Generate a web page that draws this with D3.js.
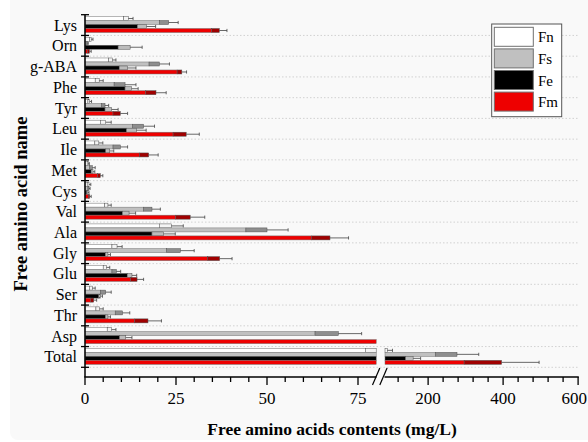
<!DOCTYPE html>
<html>
<head>
<meta charset="utf-8">
<script src="https://cdn.jsdelivr.net/npm/d3@7/dist/d3.min.js"></script>
<style>
    body { margin: 0; background: #fff; }
    text { font-family: "Liberation Serif", "Times New Roman", serif; fill: #000; }
    .grid { stroke: #c8c8c8; stroke-width: 0.8; stroke-dasharray: 1.5 2; }
    .axis { stroke: #000; stroke-width: 1.5; fill: none; }
    .whisker { stroke: #444; stroke-width: 0.8; }
</style>
</head>
<body>
<svg id="chart" width="588" height="442"></svg>
<script>
// Categories (top to bottom) and series
const aminoAcids = ["Lys", "Orn", "g-ABA", "Phe", "Tyr", "Leu", "Ile", "Met", "Cys",
    "Val", "Ala", "Gly", "Glu", "Ser", "Thr", "Asp", "Total"];
const seriesNames = ["Fn", "Fs", "Fe", "Fm"];

// Means (mg/L), one per amino acid
const fnMeans = [11.9, 1.7, 7.5, 3.9, 1.3, 5.7, 3.8, 0.9, 1.1, 6.3, 23.7, 8.8, 5.9, 2.0, 4.0, 7.3, 91];
const fsMeans = [23.0, 0.7, 20.4, 11.0, 5.5, 16.1, 9.7, 2.0, 1.1, 18.4, 50.0, 26.2, 8.6, 5.7, 10.3, 69.6, 277];
const feMeans = [16.9, 12.4, 11.7, 12.8, 7.3, 14.1, 6.8, 2.2, 0.8, 12.1, 21.6, 6.3, 12.9, 4.3, 6.3, 11.2, 160];
const fmMeans = [36.9, 1.2, 26.6, 19.5, 9.7, 27.8, 17.5, 4.2, 1.3, 28.9, 67.3, 37.0, 14.3, 2.4, 17.3, 82, 396];

// Standard deviations
const fnErrs = [1.3, 0.5, 1.0, 1.1, 0.5, 1.5, 1.1, 0.3, 0.5, 0.9, 3.3, 1.4, 0.9, 0.8, 1.0, 1.2, 14];
const fsErrs = [2.6, 0.2, 2.8, 3.0, 1.0, 3.0, 2.0, 0.8, 0.3, 2.3, 5.8, 3.8, 1.2, 1.5, 2.0, 6.4, 58];
const feErrs = [2.5, 3.3, 2.3, 1.8, 1.8, 2.7, 1.1, 0.5, 0.3, 1.8, 3.2, 0.7, 1.3, 0.5, 0.7, 1.7, 20];
const fmErrs = [2.1, 0.5, 1.3, 2.8, 2.0, 3.6, 2.6, 0.7, 0.4, 4.0, 5.1, 3.4, 1.8, 0.8, 3.7, 1.5, 100];

const leftTicks = [0, 25, 50, 75];
const rightTicks = [200, 400, 600];

const fills = {Fn: "#ffffff", Fs: "#c0c0c0", Fe: "#000000", Fm: "#ee0000"};
const boxFills = {Fn: "#f4f4f4", Fs: "#8e8e8e", Fe: "#bcbcbc", Fm: "#a00000"};

const svg = d3.select("#chart");

// light panel behind the figure
svg.append("rect")
    .attr("x", 10).attr("y", -10)
    .attr("width", 590).attr("height", 450)
    .attr("rx", 8)
    .attr("fill", "#f9f9f9");

// Broken x axis: two linear segments
const breakLo = 80, breakHi = 85;
const xL = d3.scaleLinear().domain([0, breakLo]).range([85, 376.2]);
const xR = d3.scaleLinear().domain([breakHi, 600]).range([385, 578.1]);

const y = d3.scaleBand().domain(aminoAcids).range([14.7, 367.3]);
const ySub = d3.scaleBand().domain(seriesNames).range([1.8, 17.8]);
const axisY = 377;

const rows = [];
aminoAcids.forEach((a, i) => {
    rows.push({acid: a, s: "Fn", v: fnMeans[i], e: fnErrs[i]});
    rows.push({acid: a, s: "Fs", v: fsMeans[i], e: fsErrs[i]});
    rows.push({acid: a, s: "Fe", v: feMeans[i], e: feErrs[i]});
    rows.push({acid: a, s: "Fm", v: fmMeans[i], e: fmErrs[i]});
});

// Split a [a, b] data span into screen pieces on each side of the break
function pieces(a, b) {
    let out = [];
    if (a < breakLo) out.push([xL(a), xL(Math.min(b, breakLo))]);
    if (b > breakHi) out.push([xR(Math.max(a, breakHi)), xR(b)]);
    return out;
}
function xPos(v) {
    return v <= breakLo ? xL(v) : xR(Math.max(v, breakHi));
}

// Dotted grid at category boundaries
const bounds = aminoAcids.map(a => y(a) + y.bandwidth());
svg.append("g").selectAll("line")
    .data(bounds)
    .enter()
    .append("line")
    .classed("grid", true)
    .attr("x1", 86).attr("x2", 578)
    .attr("y1", d => d).attr("y2", d => d);

// Bars
let barG = svg.append("g");
rows.forEach(d => {
    let top = y(d.acid) + ySub(d.s);
    let h = ySub.bandwidth();
    let lo = Math.max(0, d.v - d.e);

    pieces(0, lo).forEach(p => {
        barG.append("rect")
            .attr("x", p[0]).attr("y", top)
            .attr("width", p[1] - p[0]).attr("height", h)
            .attr("fill", fills[d.s])
            .attr("stroke", "#707070").attr("stroke-width", 0.5);
    });
    // error box: mean - sd to mean
    pieces(lo, d.v).forEach(p => {
        barG.append("rect")
            .attr("x", p[0]).attr("y", top)
            .attr("width", p[1] - p[0]).attr("height", h)
            .attr("fill", boxFills[d.s])
            .attr("stroke", "#505050").attr("stroke-width", 0.5);
    });
    // whisker: mean to mean + sd
    let cy = top + h / 2;
    let xa = xPos(d.v), xb = xPos(d.v + d.e);
    if (d.v >= breakLo && d.v <= breakHi) return;
    barG.append("line").classed("whisker", true)
        .attr("x1", xa).attr("x2", xb).attr("y1", cy).attr("y2", cy);
    barG.append("line").classed("whisker", true)
        .attr("x1", xb).attr("x2", xb).attr("y1", cy - 1.6).attr("y2", cy + 1.6);
});

// Y axis with boundary ticks
svg.append("line").classed("axis", true)
    .attr("x1", 85).attr("x2", 85).attr("y1", 14.7).attr("y2", axisY);
svg.append("g").selectAll("line")
    .data([14.7].concat(bounds))
    .enter()
    .append("line")
    .attr("x1", 81).attr("x2", 89)
    .attr("y1", d => d).attr("y2", d => d)
    .attr("stroke", "#000").attr("stroke-width", 1.3);

svg.append("g").selectAll("text")
    .data(aminoAcids)
    .enter()
    .append("text")
    .attr("x", 77)
    .attr("y", d => y(d) + y.bandwidth() / 2 + 5.5)
    .attr("text-anchor", "end")
    .attr("font-size", 16)
    .text(d => d);

// X axis, both segments
svg.append("line").classed("axis", true)
    .attr("x1", 84.3).attr("x2", 376.5).attr("y1", axisY).attr("y2", axisY);
svg.append("line").classed("axis", true)
    .attr("x1", 384.5).attr("x2", 578.8).attr("y1", axisY).attr("y2", axisY);

let tickG = svg.append("g");
d3.range(0, 80, 5).forEach(v => {
    let major = leftTicks.includes(v);
    tickG.append("line")
        .attr("x1", xL(v)).attr("x2", xL(v))
        .attr("y1", axisY).attr("y2", axisY + (major ? 8 : 5))
        .attr("stroke", "#000").attr("stroke-width", 1.3);
});
d3.range(120, 601, 40).forEach(v => {
    let major = rightTicks.includes(v);
    tickG.append("line")
        .attr("x1", xR(v)).attr("x2", xR(v))
        .attr("y1", axisY).attr("y2", axisY + (major ? 8 : 5))
        .attr("stroke", "#000").attr("stroke-width", 1.3);
});

tickG.selectAll("text.lt")
    .data(leftTicks)
    .enter()
    .append("text")
    .attr("x", d => xL(d)).attr("y", 404)
    .attr("text-anchor", "middle").attr("font-size", 17)
    .text(d => d);
// last label would run past the page edge, so keep it inside
tickG.selectAll("text.rt")
    .data(rightTicks)
    .enter()
    .append("text")
    .attr("x", d => d === 600 ? 587 : xR(d)).attr("y", 404)
    .attr("text-anchor", d => d === 600 ? "end" : "middle")
    .attr("font-size", 17)
    .text(d => d);

// break marks
[[372.5, 379.8], [379.8, 387.1]].forEach(b => {
    svg.append("line")
        .attr("x1", b[0]).attr("y1", 385)
        .attr("x2", b[1]).attr("y2", 368)
        .attr("stroke", "#000").attr("stroke-width", 1.2);
});

// Axis titles
svg.append("text")
    .attr("x", 332).attr("y", 435)
    .attr("text-anchor", "middle")
    .attr("font-size", 17.5).attr("font-weight", "bold")
    .text("Free amino acids contents (mg/L)");
svg.append("text")
    .attr("transform", "translate(27,204) rotate(-90)")
    .attr("text-anchor", "middle")
    .attr("font-size", 18.5).attr("font-weight", "bold")
    .text("Free amino acid name");

// Legend
let legend = svg.append("g");
legend.append("rect")
    .attr("x", 491.7).attr("y", 24)
    .attr("width", 70).attr("height", 92.7)
    .attr("fill", "#fff").attr("stroke", "#555").attr("stroke-width", 1);
seriesNames.forEach((s, i) => {
    let ty = 27.3 + i * 21.6;
    legend.append("rect")
        .attr("x", 494.3).attr("y", ty)
        .attr("width", 39).attr("height", 19)
        .attr("fill", fills[s]).attr("stroke", "#707070").attr("stroke-width", 1);
    legend.append("text")
        .attr("x", 538).attr("y", ty + 15)
        .attr("font-size", 15)
        .text(s);
});
</script>
</body>
</html>
